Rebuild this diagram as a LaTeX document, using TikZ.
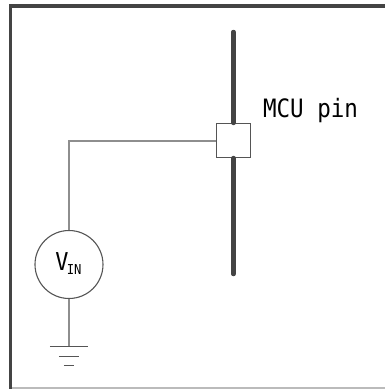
\documentclass[tikz,border=0pt]{standalone}
\usepackage{fontspec}
\setmainfont{DejaVu Sans Mono}[FakeStretch=0.89]
\usetikzlibrary{shapes.geometric,positioning}

\begin{document}
\begin{tikzpicture}

					\useasboundingbox (0,0) rectangle (7.7,7.78);

					\definecolor{framegray}{HTML}{444444}
					\definecolor{wiregray}{HTML}{8E8E8E}
					\definecolor{thingray}{HTML}{555555}

					\tikzstyle{frameline} = [framegray, line width=0.065cm]
					\tikzstyle{pinline} = [framegray, line width=0.09cm, line cap=round]
					\tikzstyle{wire} = [wiregray, line width=0.04cm]
					\tikzstyle{groundbar} = [thingray, line width=0.02cm]
					\tikzstyle{pinbox} = [
						rectangle,
						draw=thingray,
						line width=0.022cm,
						fill=white,
						minimum size=0.68cm
					]
					\tikzstyle{source} = [
						circle,
						draw=thingray,
						line width=0.022cm,
						fill=white,
						inner sep=0pt,
						minimum size=1.36cm
					]

					% frame
					\draw [wiregray!60, line width=0.03cm] (0.21,0.02) -- (7.7,0.02);
					\draw [style=frameline] (0.21,0) -- (0.21,7.66) -- (7.7,7.66);

					\coordinate (pintop) at (4.67,7.14);
					\coordinate (pinbot) at (4.67,2.30);
					\coordinate (corner) at (1.38,4.97);
					\coordinate (gnd) at (1.38,0.86);
					\coordinate (gnd2) at (1.38,0.66);
					\coordinate (gnd3) at (1.38,0.48);

					\node (pad) [style=pinbox] at (4.67,4.97) {};
					\node (vin) [style=source] at (1.38,2.49) {};
					\node (vintext) at (1.37,2.50) [inner sep=0pt] {\fontsize{14pt}{14pt}\selectfont V\kern-1pt\raisebox{-2.3pt}{\fontsize{7.8pt}{7.8pt}\selectfont IN}};
					\node (pinlabel) at (6.21,5.56) [inner sep=0pt] {\fontsize{14.4pt}{14.4pt}\selectfont MCU pin};

					\draw [style=pinline] (pintop) -- (pad.north);
					\draw [style=pinline] (pad.south) -- (pinbot);

					\draw [style=wire] (pad.west) -- (corner) -- (vin.north);
					\draw [style=wire] (vin.south) -- (gnd);

					\draw [style=groundbar] ([xshift=-0.38cm]gnd) -- ([xshift=0.38cm]gnd);
					\draw [style=groundbar] ([xshift=-0.20cm]gnd2) -- ([xshift=0.20cm]gnd2);
					\draw [style=groundbar] ([xshift=-0.10cm]gnd3) -- ([xshift=0.10cm]gnd3);

				\end{tikzpicture}
\end{document}
